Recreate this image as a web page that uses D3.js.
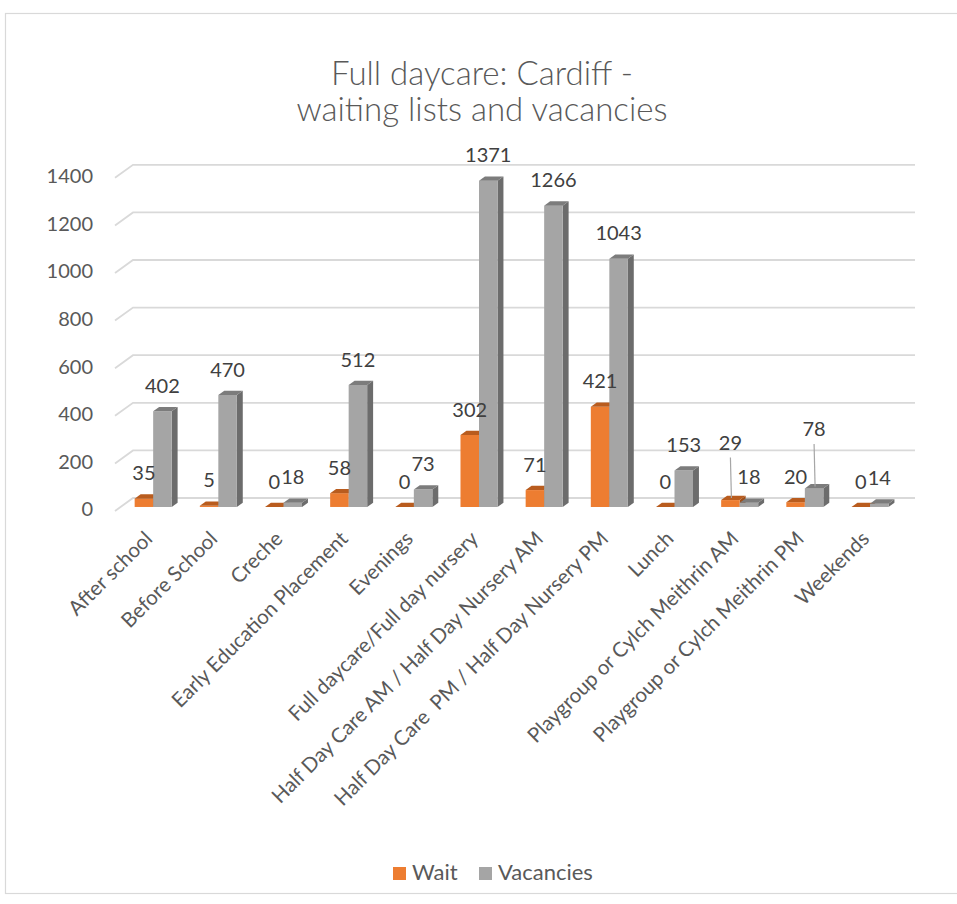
<!DOCTYPE html>
<html>
<head>
<meta charset="utf-8">
<script src="https://cdn.jsdelivr.net/npm/d3@7"></script>
<style>
  html, body { margin: 0; padding: 0; background: #ffffff; }
  svg { display: block; font-family: Lato, "Open Sans", sans-serif; }
  text { white-space: pre; }
</style>
</head>
<body>
<svg id="chart" width="957" height="904"></svg>
<script>
// ---- data ----
const categories = [
  "After school",
  "Before School",
  "Creche",
  "Early Education Placement",
  "Evenings",
  "Full daycare/Full day nursery",
  "Half Day Care AM / Half Day Nursery AM",
  "Half Day Care  PM / Half Day Nursery PM",
  "Lunch",
  "Playgroup or Cylch Meithrin AM",
  "Playgroup or Cylch Meithrin PM",
  "Weekends"
];
const waitValues = [35, 5, 0, 58, 0, 302, 71, 421, 0, 29, 20, 0];
const vacancyValues = [402, 470, 18, 512, 73, 1371, 1266, 1043, 153, 18, 78, 14];
const seriesNames = ["Wait", "Vacancies"];
const yTickValues = [0, 200, 400, 600, 800, 1000, 1200, 1400];
const titleLines = ["Full daycare: Cardiff -", "waiting lists and vacancies"];

// ---- layout / style ----
const depth = { dx: 18, dy: -13 };      // wall depth offset
const barF1 = 0.31, barF2 = 0.64;      // bar placement within depth
const colors = {
  Wait: { front: "#ED7D31", top: "#B95C1E", side: "#9E4E19" },
  Vacancies: { front: "#A5A5A5", top: "#7C7C7C", side: "#6C6C6C" }
};
const grid = "#D9D9D9";
const txt = "#595959";
const lblTxt = "#404040";
// manual label lifts (with leader lines) as in the original
const labelLift = { "9|Wait": -32, "10|Vacancies": -34 };

const svg = d3.select("#chart");
svg.append("rect").attr("x", 5.5).attr("y", 13.5).attr("width", 960).attr("height", 880)
  .attr("fill", "#fff").attr("stroke", "#D9D9D9").attr("stroke-width", 1.2);

// title
titleLines.forEach((line, i) => {
  svg.append("text").attr("text-anchor", "middle").attr("fill", txt)
    .attr("font-size", 33).attr("font-weight", 300)
    .attr("x", 482).attr("y", 85 + i * 36).text(line);
});

const x = d3.scaleBand().domain(categories).range([115, 897]).paddingInner(0).paddingOuter(0);
const y = d3.scaleLinear().domain([0, 1400]).range([511, 177.8]);

// gridlines with wall stubs
const gridG = svg.append("g");
gridG.selectAll("path").data(yTickValues).join("path")
  .attr("d", v => {
    const y0 = y(v);
    return `M115,${y0}L${115 + depth.dx},${y0 + depth.dy}L${897 + depth.dx},${y0 + depth.dy}`;
  })
  .attr("fill", "none").attr("stroke", grid).attr("stroke-width", 1.8);

// y axis labels
const yAxisG = svg.append("g").attr("transform", "translate(96,-1.5)")
  .call(d3.axisLeft(y).tickValues(yTickValues).tickSize(0).tickPadding(3).tickFormat(d3.format("d")));
yAxisG.select(".domain").remove();
yAxisG.selectAll("text").attr("fill", txt).attr("font-size", 20).attr("font-family", "Lato, sans-serif");

// bars
const bw = x.bandwidth() * 0.284;
const rows = [];
categories.forEach((c, i) => {
  rows.push({ i, c, s: "Wait", v: waitValues[i], off: -bw });
  rows.push({ i, c, s: "Vacancies", v: vacancyValues[i], off: 0 });
});
const ox1 = depth.dx * barF1, oy1 = depth.dy * barF1;
const ox2 = depth.dx * barF2, oy2 = depth.dy * barF2;
function geom(d) {
  const cx = x(d.c) + x.bandwidth() / 2;
  const xl = cx + d.off + ox1, xr = xl + bw;
  const yb = y(0) + oy1, yt = y(d.v) + oy1;
  return { xl, xr, yb, yt, dx: ox2 - ox1, dy: oy2 - oy1 };
}
const barsG = svg.append("g");
const bar = barsG.selectAll("g").data(rows).join("g");
bar.append("path").attr("d", d => { const g = geom(d);
  return `M${g.xr},${g.yb}L${g.xr + g.dx},${g.yb + g.dy}L${g.xr + g.dx},${g.yt + g.dy}L${g.xr},${g.yt}Z`; })
  .attr("fill", d => colors[d.s].side);
bar.append("path").attr("d", d => { const g = geom(d);
  return `M${g.xl},${g.yb}L${g.xr},${g.yb}L${g.xr},${g.yt}L${g.xl},${g.yt}Z`; })
  .attr("fill", d => colors[d.s].front);
bar.append("path").attr("d", d => { const g = geom(d);
  return `M${g.xl},${g.yt}L${g.xr},${g.yt}L${g.xr + g.dx},${g.yt + g.dy}L${g.xl + g.dx},${g.yt + g.dy}Z`; })
  .attr("fill", d => colors[d.s].top);

// value labels
const lblG = svg.append("g");
rows.forEach(d => {
  const g = geom(d);
  const cx = (g.xl + g.xr) / 2;
  const lift = labelLift[d.i + "|" + d.s] || 0;
  const cy = g.yt - 25.5 + lift;
  if (lift) {
    lblG.append("line").attr("x1", cx).attr("y1", cy + 15).attr("x2", cx + 1).attr("y2", g.yt - 2)
      .attr("stroke", "#A6A6A6").attr("stroke-width", 1.2);
  }
  lblG.append("text").attr("x", cx).attr("y", cy).attr("dy", "0.36em")
    .attr("text-anchor", "middle").attr("fill", lblTxt).attr("font-size", 20).text(d.v);
});

// x axis labels
const xAxisG = svg.append("g").attr("transform", "translate(0,540)")
  .call(d3.axisBottom(x).tickSize(0).tickPadding(0));
xAxisG.select(".domain").remove();
xAxisG.selectAll("text")
  .attr("x", 0).attr("y", 0).attr("dy", 0)
  .attr("text-anchor", "end")
  .attr("transform", "translate(6,0) rotate(-45)")
  .attr("fill", txt).attr("font-size", 20.5).attr("font-family", "Lato, sans-serif");

// legend
const legend = svg.append("g");
const legX = [393, 479];
seriesNames.forEach((s, k) => {
  legend.append("rect").attr("x", legX[k]).attr("y", 867).attr("width", 13).attr("height", 13)
    .attr("fill", colors[s].front);
  legend.append("text").attr("x", legX[k] + 19).attr("y", 880).attr("fill", txt)
    .attr("font-size", 22).text(s);
});
</script>
</body>
</html>
